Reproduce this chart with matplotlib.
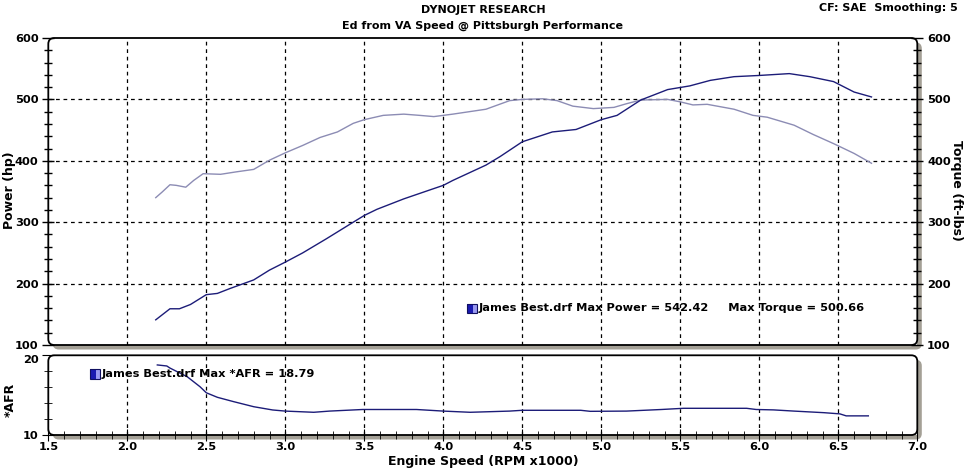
import matplotlib
matplotlib.use("Agg")
import matplotlib.pyplot as plt
from matplotlib.patches import FancyBboxPatch, Rectangle
from matplotlib.ticker import MultipleLocator, FormatStrFormatter

# ---- data ----
power_rpm = [2.18, 2.27, 2.33, 2.40, 2.50, 2.57, 2.65, 2.80, 2.90, 3.00,
             3.11, 3.26, 3.43, 3.50, 3.58, 3.75, 3.92, 4.00, 4.06, 4.27,
             4.36, 4.50, 4.69, 4.84, 5.00, 5.10, 5.25, 5.42, 5.56, 5.69,
             5.84, 6.00, 6.19, 6.32, 6.47, 6.60, 6.71]
power_hp = [141, 159, 159, 166, 182, 184, 192, 206, 222, 235,
            250, 273, 300, 311, 321, 338, 353, 360, 368, 393,
            407, 431, 447, 451, 467, 474, 499, 516, 522, 531,
            537, 539, 542, 537, 529, 512, 504]

torque_rpm = [2.18, 2.22, 2.27, 2.31, 2.37, 2.42, 2.48, 2.59, 2.69, 2.80,
              2.90, 3.00, 3.11, 3.22, 3.33, 3.43, 3.50, 3.62, 3.75, 3.85,
              3.94, 4.06, 4.27, 4.42, 4.50, 4.63, 4.72, 4.82, 4.95, 5.08,
              5.16, 5.25, 5.42, 5.50, 5.58, 5.67, 5.84, 5.96, 6.05, 6.22,
              6.34, 6.47, 6.60, 6.71]
torque_ftlb = [340, 349, 361, 360, 357, 368, 379, 378, 382, 386,
               401, 413, 425, 438, 447, 461, 467, 474, 476, 474,
               472, 476, 484, 498, 500, 501, 498, 489, 485, 487,
               493, 499, 500, 496, 491, 492, 484, 474, 471, 458,
               443, 428, 412, 396]

afr_rpm = [2.19, 2.25, 2.27, 2.38, 2.46, 2.50, 2.57, 2.67, 2.80, 2.92,
           3.00, 3.18, 3.28, 3.49, 3.83, 4.00, 4.17, 4.42, 4.50, 4.87,
           4.93, 5.16, 5.38, 5.52, 5.92, 5.98, 6.09, 6.22, 6.41, 6.51,
           6.55, 6.69]
afr_val = [18.79, 18.66, 18.4, 17.3, 16.06, 15.3, 14.73, 14.2, 13.55, 13.14,
           13.0, 12.85, 13.0, 13.2, 13.2, 13.0, 12.85, 13.0, 13.1, 13.1,
           12.97, 13.0, 13.2, 13.35, 13.35, 13.2, 13.15, 13.0, 12.8, 12.65,
           12.4, 12.4]

x_ticks = [1.5, 2.0, 2.5, 3.0, 3.5, 4.0, 4.5, 5.0, 5.5, 6.0, 6.5, 7.0]
main_ticks = [100, 200, 300, 400, 500, 600]
afr_ticks = [10, 20]

title1 = "DYNOJET RESEARCH"
title2 = "Ed from VA Speed @ Pittsburgh Performance"
corner = "CF: SAE  Smoothing: 5"
legend_main = "James Best.drf Max Power = 542.42     Max Torque = 500.66"
legend_afr = "James Best.drf Max *AFR = 18.79"

# ---- figure ----
W, H = 966, 468
DPI = 100
fig = plt.figure(figsize=(W / DPI, H / DPI), dpi=DPI, facecolor="white")
plt.rcParams['font.family'] = ['DejaVu Sans']

def px_axes(x0, y0, x1, y1):
    return fig.add_axes([x0 / W, 1 - y1 / H, (x1 - x0) / W, (y1 - y0) / H])

ax = px_axes(48.3, 38, 917.3, 345)
ax2 = px_axes(48.3, 355.3, 917.3, 435)

dark = "#1c1c78"
light = "#8c8cb4"
shadow = "#a4a096"
fs = 8.2

for a in (ax, ax2):
    a.set_facecolor("white")
    for s in a.spines.values():
        s.set_visible(False)
    a.set_xlim(1.5, 7.0)
    a.xaxis.set_major_locator(MultipleLocator(0.5))
    for xv in x_ticks[1:-1]:
        a.axvline(xv, color="black", lw=0.9, ls=(0, (3, 3)), zorder=1)
    # frame + shadow in pixel coordinates
    bb = a.get_position()
    x0, y0, w, h = bb.x0 * W, bb.y0 * H, bb.width * W, bb.height * H
    sh = FancyBboxPatch((x0 + 4.5, y0 - 4.5), w, h,
                        boxstyle="round,pad=0,rounding_size=6",
                        transform=None, facecolor=shadow, edgecolor="none",
                        zorder=-5)
    fig.add_artist(sh)
    fr = FancyBboxPatch((x0, y0), w, h,
                        boxstyle="round,pad=0,rounding_size=6",
                        transform=None, facecolor="none", edgecolor="black",
                        lw=1.3, zorder=10)
    fig.add_artist(fr)

# main panel
ax.set_ylim(100, 600)
for yv in main_ticks[1:-1]:
    ax.axhline(yv, color="black", lw=0.9, ls=(0, (3, 3)), zorder=1)
ax.plot(torque_rpm, torque_ftlb, color=light, lw=1.0, zorder=3)
ax.plot(power_rpm, power_hp, color=dark, lw=1.0, zorder=4)
ax.set_yticks(main_ticks)
ax.yaxis.set_minor_locator(MultipleLocator(20))
ax.tick_params(axis="y", which="both", left=True, right=True,
               labelleft=True, labelright=True, direction="inout",
               labelsize=fs, pad=3)
ax.tick_params(axis="y", which="major", length=8, width=1)
ax.tick_params(axis="y", which="minor", length=6, width=1)
for lab in ax.get_yticklabels():
    lab.set_fontweight("bold")
ax.tick_params(axis="x", which="both", bottom=False, labelbottom=False)

# legend box main
sx, sy = 4.15, 160
ax.add_patch(Rectangle((sx, sy - 7.5), 0.04, 15, facecolor="#1a1ab0",
                       edgecolor="none", zorder=5))
ax.add_patch(Rectangle((sx + 0.04, sy - 7.5), 0.022, 15, facecolor="#9a9af0",
                       edgecolor="none", zorder=5))
ax.add_patch(Rectangle((sx, sy - 7.5), 0.062, 15, facecolor="none",
                       edgecolor="#101060", lw=0.8, zorder=6))
ax.text(sx + 0.072, sy, legend_main, fontsize=fs, fontweight="bold",
        va="center", ha="left", zorder=6)

# AFR panel
ax2.set_ylim(10, 20)
ax2.plot(afr_rpm, afr_val, color=dark, lw=1.0, zorder=4)
ax2.set_yticks(afr_ticks)
ax2.yaxis.set_minor_locator(MultipleLocator(2))
ax2.xaxis.set_minor_locator(MultipleLocator(0.1))
ax2.xaxis.set_major_formatter(FormatStrFormatter("%.1f"))
ax2.set_xticks(x_ticks)
ax2.tick_params(axis="both", which="both", direction="inout", labelsize=fs)
ax2.tick_params(axis="y", which="major", length=8, pad=3)
ax2.tick_params(axis="y", which="minor", length=6)
ax2.tick_params(axis="x", which="major", length=8, pad=1)
ax2.tick_params(axis="x", which="minor", length=6)
for lab in ax2.get_yticklabels() + ax2.get_xticklabels():
    lab.set_fontweight("bold")
ax2.get_yticklabels()[-1].set_va("top")

sx2, sy2 = 1.765, 17.65
ax2.add_patch(Rectangle((sx2, sy2 - 0.6), 0.04, 1.2, facecolor="#1a1ab0",
                        edgecolor="none", zorder=5))
ax2.add_patch(Rectangle((sx2 + 0.04, sy2 - 0.6), 0.022, 1.2,
                        facecolor="#9a9af0", edgecolor="none", zorder=5))
ax2.add_patch(Rectangle((sx2, sy2 - 0.6), 0.062, 1.2, facecolor="none",
                        edgecolor="#101060", lw=0.8, zorder=6))
ax2.text(sx2 + 0.072, sy2, legend_afr, fontsize=fs, fontweight="bold",
         va="center", ha="left", zorder=6)

# texts
fig.text(483 / W, 1 - 10 / H, title1, ha="center", va="center",
         fontsize=8, fontweight="bold")
fig.text(483 / W, 1 - 26 / H, title2, ha="center", va="center",
         fontsize=8, fontweight="bold")
fig.text(958 / W, 1 - 8 / H, corner, ha="right", va="center",
         fontsize=8, fontweight="bold")
fig.text(10 / W, 1 - 190 / H, "Power (hp)", rotation=90, ha="center",
         va="center", fontsize=9, fontweight="bold")
fig.text(957 / W, 1 - 190 / H, "Torque (ft-lbs)", rotation=-90, ha="center",
         va="center", fontsize=9, fontweight="bold")
fig.text(10 / W, 1 - 400 / H, "*AFR", rotation=90, ha="center",
         va="center", fontsize=9, fontweight="bold")
fig.text(483 / W, 1 - 461.5 / H, "Engine Speed (RPM x1000)", ha="center",
         va="center", fontsize=9, fontweight="bold")

fig.savefig("out.png", dpi=DPI, facecolor="white")
